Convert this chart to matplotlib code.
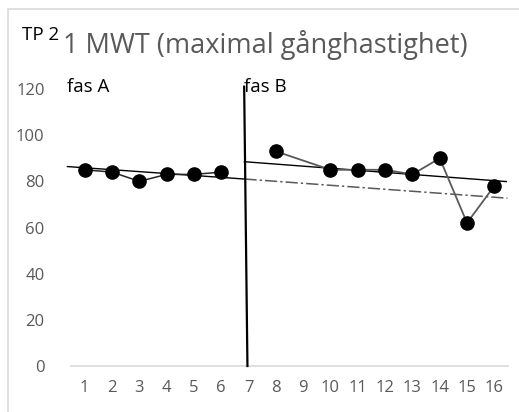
import matplotlib
matplotlib.use("Agg")
import matplotlib.pyplot as plt
from matplotlib.patches import Rectangle

# ---- data ----
phase_a_x = [1, 2, 3, 4, 5, 6]
phase_a_y = [85, 84, 80, 83, 83, 84]
phase_b_x = [8, 10, 11, 12, 13, 14, 15, 16]
phase_b_y = [93, 85, 85, 85, 83, 90, 62, 78]
x_ticks = list(range(1, 17))
y_ticks = [0, 20, 40, 60, 80, 100, 120]

trend_a_x = [0.37, 6.85]
trend_a_y = [86.4, 81.0]
trend_a_ext_x = [6.85, 16.48]
trend_a_ext_y = [81.0, 72.7]
trend_b_x = [6.85, 16.44]
trend_b_y = [88.5, 79.9]
phase_line_x = [6.84, 6.96]
phase_line_y = [121, 0]

title = "1 MWT (maximal gånghastighet)"
tp_label = "TP 2"

plt.rcParams['font.family'] = ['Open Sans', 'DejaVu Sans']

W, H = 519, 412
fig = plt.figure(figsize=(W / 100, H / 100), dpi=100)
ax = fig.add_axes([71 / W, 1 - 366 / H, (508 - 71) / W, (366 - 89) / H])

grey = '#595959'

# chart border (partially visible)
fig.patches.append(Rectangle((8 / W, -0.1), 1.2, 1 - 9 / H + 0.1, transform=fig.transFigure,
                             fill=False, edgecolor='#d9d9d9', lw=1.2))

ax.plot(phase_a_x, phase_a_y, color='#262626', lw=1.1, marker='o', ms=9.5,
        mfc='black', mec='black', zorder=3)
ax.plot(phase_b_x, phase_b_y, color='#595959', lw=1.3, marker='o', ms=9.5,
        mfc='black', mec='black', zorder=3)

ax.plot(trend_a_x, trend_a_y, color='black', lw=1.0, clip_on=False, zorder=2)
ax.plot(trend_a_ext_x, trend_a_ext_y, color='#595959', lw=1.1, ls=(0, (8, 2, 1.5, 2)),
        clip_on=False, zorder=2)
ax.plot(trend_b_x, trend_b_y, color='black', lw=1.0, clip_on=False, zorder=2)
ax.plot(phase_line_x, phase_line_y, color='black', lw=1.6, clip_on=False, zorder=4)

ax.set_xlim(0.5, 16.5)
ax.set_ylim(0, 120)
ax.set_xticks(x_ticks)
ax.set_xticklabels([str(v) for v in x_ticks])
ax.set_yticks(y_ticks)
ax.set_yticklabels([str(v) for v in y_ticks])
ax.tick_params(axis='both', length=0, colors=grey, labelsize=12)
ax.tick_params(axis='y', pad=19)
ax.tick_params(axis='x', pad=10)
for s in ['top', 'right', 'left']:
    ax.spines[s].set_visible(False)
ax.spines['bottom'].set_color('#d9d9d9')
ax.spines['bottom'].set_linewidth(1.2)

fig.text(63 / W, 1 - 53 / H, title, fontsize=19.5, color=grey, ha='left', va='baseline')
fig.text(22 / W, 1 - 40 / H, tp_label, fontsize=13.5, color='black', ha='left', va='baseline')
fig.text(67 / W, 1 - 92 / H, "fas A", fontsize=13.5, color='black', ha='left', va='baseline')
fig.text(244 / W, 1 - 92 / H, "fas B", fontsize=13.5, color='black', ha='left', va='baseline')

fig.savefig('out.png', dpi=100)
